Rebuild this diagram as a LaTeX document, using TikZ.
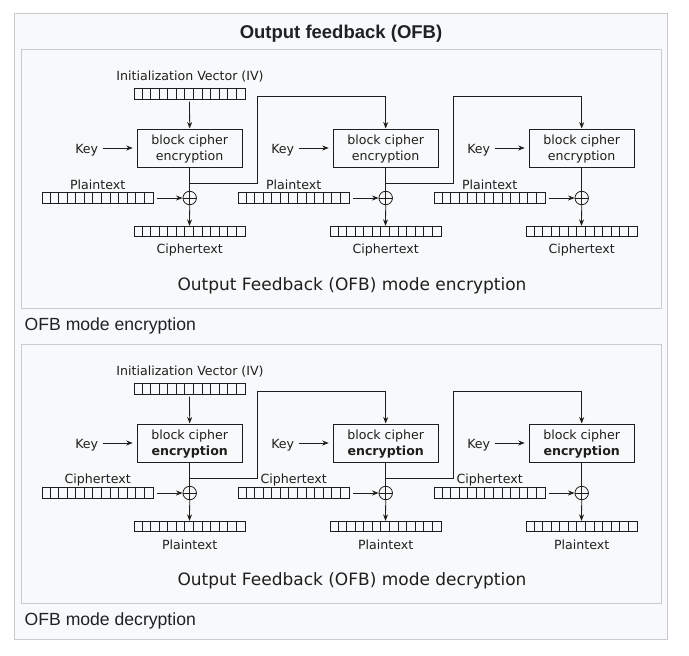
\documentclass[tikz,border=0pt]{standalone}
\usepackage{fontspec}
\setmainfont{DejaVu Sans}
\newfontfamily\wikifont{Liberation Sans}
\usetikzlibrary{arrows.meta}
\definecolor{framebg}{HTML}{F8F9FA}
\definecolor{frameline}{HTML}{C8CCD1}
\definecolor{ink}{HTML}{1E1E1E}
\definecolor{wikitext}{HTML}{202122}
\begin{document}
\begin{tikzpicture}[x=1pt,y=-1pt,
  lab/.style={font=\fontsize{12.6}{15}\selectfont, text=ink, inner sep=0, yshift=-1.8pt},
  blockbox/.style={draw=ink, line width=1pt, minimum width=105pt, minimum height=38pt, inner sep=0},
  blocktext/.style={align=center, font=\fontsize{12.6}{15.5}\selectfont, text=ink, inner sep=0},
  regbox/.style={draw=ink, line width=0.8pt, minimum width=111pt, minimum height=10.5pt, inner sep=0},
  xorsym/.style={circle, draw=ink, line width=0.8pt, minimum size=13.5pt, inner sep=0},
  wire/.style={draw=ink, line width=0.8pt},
  arr/.style={wire, -{Stealth[length=6.5pt,width=5pt]}},
  panel/.style={draw=frameline, fill=framebg, line width=0.8pt},
  caption/.style={font=\wikifont\fontsize{17.6}{20}\selectfont, text=wikitext, inner sep=0, yshift=-2pt},
  paneltitle/.style={font=\fontsize{17}{20}\selectfont, text=ink, inner sep=0, yshift=-2pt}
]
\useasboundingbox (0,0) rectangle (689,656);
\fill[white] (0,0) rectangle (689,656);
\draw[panel] (14.5,13.5) rectangle (667.5,639.5);
\node[font=\wikifont\bfseries\fontsize{18.5}{20}\selectfont, text=wikitext, inner sep=0, yshift=-2pt] (frametitle) at (341,32) {Output feedback (OFB)};
\draw[panel] (21,49.5) rectangle (661,308);
\draw[panel] (21,344.5) rectangle (661,603);
\node[caption, anchor=west] (capenc) at (24.5,324) {OFB mode encryption};
\node[caption, anchor=west] (capdec) at (24.5,619) {OFB mode decryption};
\node[paneltitle] (titleenc) at (352,284) {Output Feedback (OFB) mode encryption};
\node[paneltitle] (titledec) at (352,579) {Output Feedback (OFB) mode decryption};

\foreach \p/\dy/\inlab/\outlab/\encf in {e/0/Plaintext/Ciphertext/\mdseries, d/295/Ciphertext/Plaintext/\bfseries}{
  % IV
  \node[lab] (ivlab-\p) at (190,75+\dy) {Initialization Vector (IV)};
  \node[regbox] (ivreg-\p) at (189.5,94+\dy) {};
  \foreach \k in {1,...,12}{
    \draw[ink, line width=0.8pt] ([xshift=\k*8.538pt]ivreg-\p.south west) -- ([xshift=\k*8.538pt]ivreg-\p.north west);
  }
  \foreach \i in {0,1,2}{
    \pgfmathsetmacro\cx{189.7+196*\i}
    \node[blockbox] (blk-\p-\i) at (\cx,148+\dy) {};
    \node[blocktext] (blktxt-\p-\i) at ([yshift=-1.2pt]blk-\p-\i.center) {block cipher\\{\encf encryption}};
    \node[lab] (key-\p-\i) at (\cx-103,148+\dy) {Key};
    \draw[arr, shorten <=4.5pt, shorten >=4pt] (key-\p-\i.east |- blk-\p-\i.west) -- (blk-\p-\i.west);
    \node[lab] (inlab-\p-\i) at (\cx-92,183+\dy) {\inlab};
    \node[regbox] (inreg-\p-\i) at (\cx-92.2,198+\dy) {};
    \node[xorsym] (xor-\p-\i) at (\cx,198+\dy) {};
    \draw[wire] (xor-\p-\i.north) -- (xor-\p-\i.south) (xor-\p-\i.west) -- (xor-\p-\i.east);
    \node[regbox] (outreg-\p-\i) at (\cx-0.2,231.5+\dy) {};
    \node[lab] (outlab-\p-\i) at (\cx,248+\dy) {\outlab};
    \foreach \k in {1,...,12}{
      \draw[ink, line width=0.8pt] ([xshift=\k*8.538pt]inreg-\p-\i.south west) -- ([xshift=\k*8.538pt]inreg-\p-\i.north west);
      \draw[ink, line width=0.8pt] ([xshift=\k*8.538pt]outreg-\p-\i.south west) -- ([xshift=\k*8.538pt]outreg-\p-\i.north west);
    }
    \draw[arr, shorten <=4pt] (inreg-\p-\i.east) -- (xor-\p-\i.west);
    \draw[wire] (blk-\p-\i.south) -- (xor-\p-\i.north);
    \draw[arr] (xor-\p-\i.south) -- (outreg-\p-\i.north);
    \coordinate (br-\p-\i) at (\cx,183.3+\dy);
    \coordinate (fb-\p-\i) at (\cx+68,96+\dy);
  }
  \draw[arr, shorten <=2pt] (ivreg-\p.south) -- (blk-\p-0.north);
  \draw[arr] (br-\p-0) -| (fb-\p-0) -| (blk-\p-1.north);
  \draw[arr] (br-\p-1) -| (fb-\p-1) -| (blk-\p-2.north);
}
\end{tikzpicture}
\end{document}
